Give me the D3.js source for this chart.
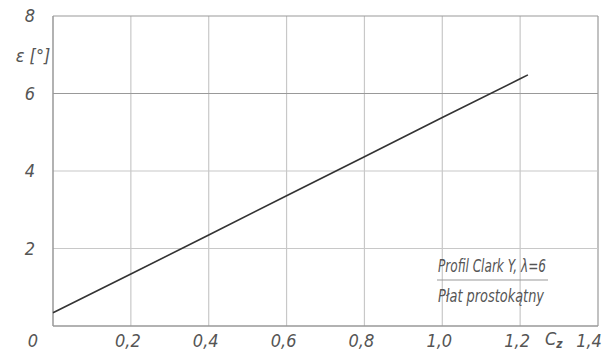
<!DOCTYPE html>
<html><head><meta charset="utf-8">
<script src="https://cdn.jsdelivr.net/npm/d3@7"></script>
<style>
body{margin:0;background:#fff;}
text{font-family:"DejaVu Sans Condensed","DejaVu Sans",sans-serif;font-style:italic;fill:#555;white-space:pre;}
</style></head>
<body><svg id="c" width="606" height="354"></svg>
<script>
const xTicks = [0.2, 0.4, 0.6, 0.8, 1.0, 1.2, 1.4];
const xTickLabels = ["0,2", "0,4", "0,6", "0,8", "1,0", "1,2", "1,4"];
const yTicks = [2, 4, 6, 8];
const yTickLabels = ["2", "4", "6", "8"];
const cz = [0, 0.2, 0.4, 0.6, 0.8, 1.0, 1.2, 1.22];
const eps = [0.34, 1.34, 2.35, 3.36, 4.37, 5.38, 6.38, 6.48];
const noteLines = ["Profil Clark Y, λ=6", "Płat prostokątny"];

const svg = d3.select("#c");
const x = d3.scaleLinear().domain([0, 1.4]).range([53, 598]);
const y = d3.scaleLinear().domain([0, 8]).range([326, 16]);

// grid
svg.append("g").selectAll("line").data(xTicks).join("line")
  .attr("x1", d => x(d)).attr("x2", d => x(d)).attr("y1", y(0)).attr("y2", y(8))
  .attr("stroke", d => d === 1.4 ? "#999" : "#c8c8c8").attr("stroke-width", 1.2);
svg.append("g").selectAll("line").data(yTicks).join("line")
  .attr("x1", x(0)).attr("x2", x(1.4)).attr("y1", d => y(d)).attr("y2", d => y(d))
  .attr("stroke", d => (d === 8 || d === 6) ? "#999" : "#c8c8c8").attr("stroke-width", 1.2);

// axes lines
svg.append("line").attr("x1", x(0)).attr("x2", x(0)).attr("y1", y(0)).attr("y2", y(8))
  .attr("stroke", "#999").attr("stroke-width", 1.5);
svg.append("line").attr("x1", x(0)).attr("x2", x(1.4)).attr("y1", y(0)).attr("y2", y(0))
  .attr("stroke", "#999").attr("stroke-width", 1.5);

// tick labels
svg.append("g").selectAll("text").data(xTicks).join("text")
  .attr("x", d => d === 1.4 ? x(d) - 9 : x(d) - 3).attr("y", 347).attr("text-anchor", "middle")
  .attr("font-size", 18).text((d, i) => xTickLabels[i]);
svg.append("g").selectAll("text").data(yTicks).join("text")
  .attr("x", 30).attr("y", d => y(d) + 6).attr("text-anchor", "middle")
  .attr("font-size", 18).text((d, i) => yTickLabels[i]);
svg.append("text").attr("x", 33).attr("y", 347).attr("text-anchor", "middle")
  .attr("font-size", 18).text("0");

// axis titles
svg.append("text").attr("x", 33).attr("y", 62).attr("text-anchor", "middle")
  .attr("font-size", 18).text("ε [°]");
const cl = svg.append("text").attr("x", 545).attr("y", 345).attr("font-size", 18);
cl.append("tspan").text("C");
cl.append("tspan").attr("font-size", 12).attr("dy", 3).attr("font-weight", "bold").text("z");

// line
svg.append("path").datum(cz.map((d, i) => [d, eps[i]]))
  .attr("d", d3.line().x(d => x(d[0])).y(d => y(d[1])))
  .attr("fill", "none").attr("stroke", "#333").attr("stroke-width", 1.6);

// note
svg.append("text").attr("x", 438).attr("y", 272).attr("font-size", 18)
  .attr("textLength", 108).attr("lengthAdjust", "spacingAndGlyphs").text(noteLines[0]);
svg.append("line").attr("x1", 437).attr("x2", 548).attr("y1", 280).attr("y2", 280)
  .attr("stroke", "#999").attr("stroke-width", 1.2);
svg.append("text").attr("x", 438).attr("y", 302).attr("font-size", 18)
  .attr("textLength", 106).attr("lengthAdjust", "spacingAndGlyphs").text(noteLines[1]);
</script></body></html>
